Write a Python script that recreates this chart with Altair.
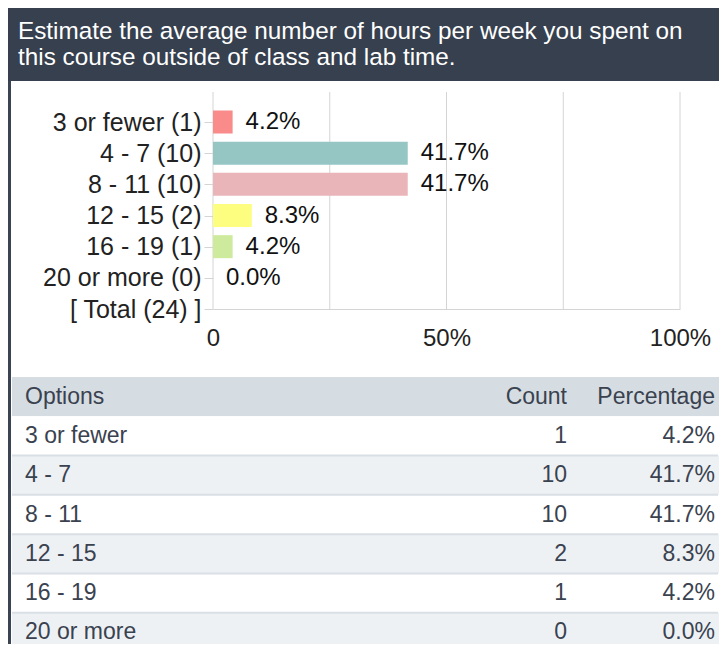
import altair as alt
import pandas as pd

# ---------------- data ----------------
title_lines = [
    "Estimate the average number of hours per week you spent on",
    "this course outside of class and lab time.",
]
options = ["3 or fewer", "4 - 7", "8 - 11", "12 - 15", "16 - 19", "20 or more"]
counts = [1, 10, 10, 2, 1, 0]
percents = [4.2, 41.7, 41.7, 8.3, 4.2, 0.0]
total = 24
bar_colors = ["#f98b8b", "#95c6c4", "#e9b5b9", "#fdfd80", "#cdea9d", "#a9cdea"]
x_tick_values = [0, 50, 100]
grid_values = [0, 25, 50, 75, 100]
table_header = ["Options", "Count", "Percentage"]

FONT = "Liberation Sans, Arial, sans-serif"
DARK = "#36404e"
BORDER = "#3a4452"
GRID = "#d4d4d4"
TEXT_TABLE = "#3a4250"
W = 711

# ---------------- header ----------------
hdr_df = pd.DataFrame({"line": list(range(len(title_lines))), "text": title_lines})
header = (
    alt.Chart(hdr_df)
    .mark_text(align="left", baseline="alphabetic", font=FONT, fontSize=24.3, color="white")
    .encode(
        x=alt.value(10),
        y=alt.Y("line:O", scale=alt.Scale(type="point", range=[31, 57], padding=0), axis=None),
        text="text:N",
    )
    .properties(width=W, height=73, view=alt.ViewBackground(fill=DARK, strokeWidth=0))
)

# ---------------- bar chart ----------------
y_labels = [f"{o} ({c})" for o, c in zip(options, counts)] + [f"[ Total ({total}) ]"]
bar_df = pd.DataFrame({
    "cat": y_labels[:-1],
    "pct": percents,
    "label": [f"{p:.1f}%" for p in percents],
    "color": bar_colors,
})
PLOT_H = 228
AX_EXT = 68
X0 = 205
yscale = alt.Scale(type="point", domain=y_labels, range=[41, PLOT_H], padding=0)
xscale = alt.Scale(domain=[0, 100], nice=False, zero=True, range=[X0, X0 + 467])

x_axis = alt.Axis(
    values=x_tick_values,
    labelExpr="datum.value == 0 ? '0' : datum.value + '%'",
    grid=False, ticks=False, domain=True, domainColor=GRID,
    labelFontSize=24, labelFont=FONT, labelColor="#222222",
    labelPadding=17, labelFlush=False, minExtent=AX_EXT, title=None,
)
y_axis = alt.Axis(
    grid=False, domain=False, ticks=True, tickSize=9, tickColor=GRID,
    labelFontSize=25, labelFont=FONT, labelColor="#222222",
    labelPadding=3, labelLimit=400, offset=-X0, title=None,
)

grid_df = pd.DataFrame({"pct": grid_values})
grid = alt.Chart(grid_df).mark_rule(color=GRID, strokeWidth=1).encode(
    x=alt.X("pct:Q", scale=xscale, axis=x_axis),
    y=alt.value(11),
    y2=alt.value(PLOT_H),
)
bars = alt.Chart(bar_df).mark_bar(size=23).encode(
    x=alt.X("pct:Q", scale=xscale, axis=x_axis),
    y=alt.Y("cat:N", scale=yscale, axis=y_axis, sort=None),
    color=alt.Color("color:N", scale=None),
)
labels = alt.Chart(bar_df).mark_text(
    align="left", baseline="middle", dx=13, font=FONT, fontSize=24, color="#111111"
).encode(
    x=alt.X("pct:Q", scale=xscale, axis=x_axis),
    y=alt.Y("cat:N", scale=yscale, axis=y_axis, sort=None),
    text="label:N",
)
border_bar = alt.Chart(pd.DataFrame({"k": [0]})).mark_rect(color=BORDER).encode(
    x=alt.value(0), x2=alt.value(3), y=alt.value(0), y2=alt.value(PLOT_H + AX_EXT)
)
bar_panel = alt.layer(grid, bars, labels, border_bar).properties(width=W, height=PLOT_H)

# ---------------- table ----------------
rows = [table_header[0]] + options
fills = ["#d6dde2"] + ["#ffffff" if i % 2 == 0 else "#edf1f4" for i in range(len(options))]
table_df = pd.DataFrame({
    "row": rows,
    "c1": rows,
    "c2": [table_header[1]] + [str(c) for c in counts],
    "c3": [table_header[2]] + [f"{p:.1f}%" for p in percents],
    "fill": fills,
    "idx": list(range(len(rows))),
})
TAB_FULL = 275   # full height of the 7 table rows
TAB_H = 267      # visible part (page is cut at the bottom)
ytab = alt.Scale(type="band", domain=rows, range=[0, TAB_FULL], paddingInner=0, paddingOuter=0)
ty = alt.Y("row:N", scale=ytab, axis=None, sort=None)

row_bg = alt.Chart(table_df).mark_rect(clip=True).encode(
    x=alt.value(4), x2=alt.value(W), y=ty, color=alt.Color("fill:N", scale=None)
)
seps = alt.Chart(table_df).transform_filter("datum.idx >= 2").mark_rule(
    color="#d9dfe4", strokeWidth=2, clip=True
).encode(
    x=alt.value(4), x2=alt.value(W - 1),
    y=alt.Y("row:N", scale=ytab, axis=None, sort=None, bandPosition=0),
)
txt_kw = dict(baseline="middle", font=FONT, fontSize=23, color=TEXT_TABLE, clip=True)
t1 = alt.Chart(table_df).mark_text(align="left", **txt_kw).encode(x=alt.value(17), y=ty, text="c1:N")
t2 = alt.Chart(table_df).mark_text(align="right", **txt_kw).encode(x=alt.value(559), y=ty, text="c2:N")
t3 = alt.Chart(table_df).mark_text(align="right", **txt_kw).encode(x=alt.value(707), y=ty, text="c3:N")
border_tab = alt.Chart(pd.DataFrame({"k": [0]})).mark_rect(color=BORDER).encode(
    x=alt.value(0), x2=alt.value(3), y=alt.value(0), y2=alt.value(TAB_H)
)
table_panel = alt.layer(row_bg, seps, t1, t2, t3, border_tab).properties(width=W, height=TAB_H)

chart = (
    alt.vconcat(header, bar_panel, table_panel, spacing=0)
    .properties(padding=0, background="white")
    .configure_view(strokeWidth=0)
)

chart.save("out.html", embed_options={"renderer": "svg", "actions": False})
